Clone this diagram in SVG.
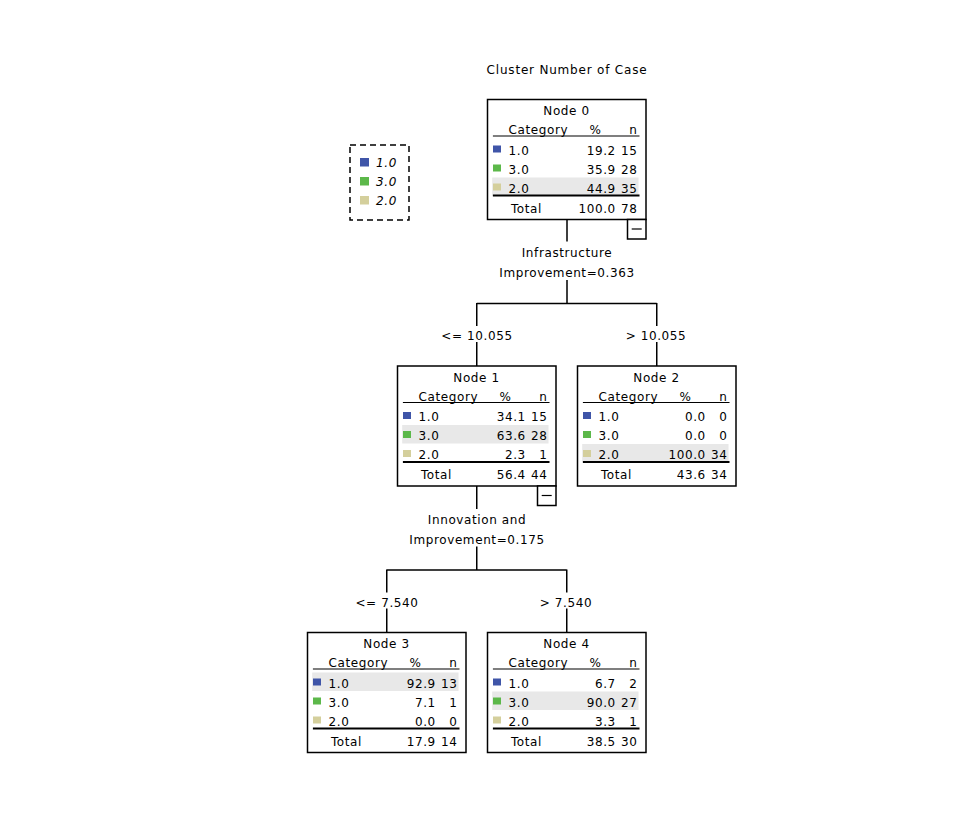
<svg xmlns="http://www.w3.org/2000/svg" width="975" height="825" viewBox="0 0 975 825">
<defs>
<style>
text{font-family:"DejaVu Sans","Liberation Sans",sans-serif;font-size:12px;fill:#000;letter-spacing:0.6px}
.title{letter-spacing:0.8px}
.m{text-anchor:middle}
.e{text-anchor:end}
.box{fill:#fff;stroke:#000;stroke-width:1.5}
.hl{fill:#e8e8e8}
.hd{stroke:#000;stroke-width:1.2}
.sep{stroke:#000;stroke-width:2}
.b{fill:#3f55a8}
.g{fill:#5cb84a}
.y{fill:#d4cf9c}
.con{stroke:#000;stroke-width:1.5;fill:none}
.leg{fill:none;stroke:#000;stroke-width:1.5;stroke-dasharray:6,4}
.it{font-style:italic}
</style>
</defs>
<rect width="975" height="825" fill="#fff"/>
<text class="title m" x="567" y="74">Cluster Number of Case</text>

<g id="legend">
<rect class="leg" x="350" y="145" width="59" height="75"/>
<rect class="b" x="360" y="158" width="9" height="8.5"/>
<rect class="g" x="360" y="177" width="9" height="8.5"/>
<rect class="y" x="360" y="196" width="9" height="8.5"/>
<text class="it" x="376" y="167">1.0</text>
<text class="it" x="376" y="186">3.0</text>
<text class="it" x="376" y="205">2.0</text>
</g>

<g id="connectors">
<path class="con" d="M567,219.5V241.5M567,280V303.5M476.75,303.5H656.75M476.75,303V326M476.75,342V366M656.75,303V326M656.75,342V366"/>
<path class="con" d="M476.75,486V509M476.75,546.5V570M386.75,570H566.75M386.75,569.5V592.5M386.75,608.5V632.5M566.75,569.5V592.5M566.75,608.5V632.5"/>
<text class="m" x="567" y="257">Infrastructure</text>
<text class="m" x="567" y="277">Improvement=0.363</text>
<text class="m" x="477" y="340">&lt;= 10.055</text>
<text class="m" x="656" y="340">&gt; 10.055</text>
<text class="m" x="477" y="523.5">Innovation and</text>
<text class="m" x="477" y="543.5">Improvement=0.175</text>
<text class="m" x="387" y="606.5">&lt;= 7.540</text>
<text class="m" x="566" y="606.5">&gt; 7.540</text>
</g>

<g id="node0" transform="translate(487.5,99.5)">
<rect class="box" x="0" y="0" width="158.5" height="120"/>
<rect class="hl" x="4.7" y="78" width="146.3" height="18.5"/>
<text class="m" x="79" y="15.7">Node 0</text>
<text x="21" y="34.7">Category</text><text class="m" x="108" y="34.7">%</text><text class="e" x="150" y="34.7">n</text>
<line class="hd" x1="5.4" y1="36.5" x2="152" y2="36.5"/>
<rect class="b" x="5.5" y="46" width="8" height="7"/><text x="21" y="55">1.0</text><text class="e" x="128.3" y="55">19.2</text><text class="e" x="150" y="55">15</text>
<rect class="g" x="5.5" y="65" width="8" height="7"/><text x="21" y="74">3.0</text><text class="e" x="128.3" y="74">35.9</text><text class="e" x="150" y="74">28</text>
<rect class="y" x="5.5" y="84" width="8" height="7"/><text x="21" y="93">2.0</text><text class="e" x="128.3" y="93">44.9</text><text class="e" x="150" y="93">35</text>
<line class="sep" x1="5.4" y1="96" x2="152" y2="96"/>
<text x="23.4" y="113">Total</text><text class="e" x="128.3" y="113">100.0</text><text class="e" x="150" y="113">78</text>
<rect class="box" x="140" y="120" width="18.5" height="19.5"/>
<line class="hd" x1="144.2" y1="129.5" x2="154.2" y2="129.5"/>
</g>

<g id="node1" transform="translate(397.5,366)">
<rect class="box" x="0" y="0" width="158.5" height="120"/>
<rect class="hl" x="4.7" y="59" width="146.3" height="18.5"/>
<text class="m" x="79" y="15.7">Node 1</text>
<text x="21" y="34.7">Category</text><text class="m" x="108" y="34.7">%</text><text class="e" x="150" y="34.7">n</text>
<line class="hd" x1="5.4" y1="36.5" x2="152" y2="36.5"/>
<rect class="b" x="5.5" y="46" width="8" height="7"/><text x="21" y="55">1.0</text><text class="e" x="128.3" y="55">34.1</text><text class="e" x="150" y="55">15</text>
<rect class="g" x="5.5" y="65" width="8" height="7"/><text x="21" y="74">3.0</text><text class="e" x="128.3" y="74">63.6</text><text class="e" x="150" y="74">28</text>
<rect class="y" x="5.5" y="84" width="8" height="7"/><text x="21" y="93">2.0</text><text class="e" x="128.3" y="93">2.3</text><text class="e" x="150" y="93">1</text>
<line class="sep" x1="5.4" y1="96" x2="152" y2="96"/>
<text x="23.4" y="113">Total</text><text class="e" x="128.3" y="113">56.4</text><text class="e" x="150" y="113">44</text>
<rect class="box" x="140" y="120" width="18.5" height="19.5"/>
<line class="hd" x1="144.2" y1="129.5" x2="154.2" y2="129.5"/>
</g>

<g id="node2" transform="translate(577.5,366)">
<rect class="box" x="0" y="0" width="158.5" height="120"/>
<rect class="hl" x="4.7" y="78" width="146.3" height="18.5"/>
<text class="m" x="79" y="15.7">Node 2</text>
<text x="21" y="34.7">Category</text><text class="m" x="108" y="34.7">%</text><text class="e" x="150" y="34.7">n</text>
<line class="hd" x1="5.4" y1="36.5" x2="152" y2="36.5"/>
<rect class="b" x="5.5" y="46" width="8" height="7"/><text x="21" y="55">1.0</text><text class="e" x="128.3" y="55">0.0</text><text class="e" x="150" y="55">0</text>
<rect class="g" x="5.5" y="65" width="8" height="7"/><text x="21" y="74">3.0</text><text class="e" x="128.3" y="74">0.0</text><text class="e" x="150" y="74">0</text>
<rect class="y" x="5.5" y="84" width="8" height="7"/><text x="21" y="93">2.0</text><text class="e" x="128.3" y="93">100.0</text><text class="e" x="150" y="93">34</text>
<line class="sep" x1="5.4" y1="96" x2="152" y2="96"/>
<text x="23.4" y="113">Total</text><text class="e" x="128.3" y="113">43.6</text><text class="e" x="150" y="113">34</text>
</g>

<g id="node3" transform="translate(307.5,632.5)">
<rect class="box" x="0" y="0" width="158.5" height="120"/>
<rect class="hl" x="4.7" y="40" width="146.3" height="18.5"/>
<text class="m" x="79" y="15.7">Node 3</text>
<text x="21" y="34.7">Category</text><text class="m" x="108" y="34.7">%</text><text class="e" x="150" y="34.7">n</text>
<line class="hd" x1="5.4" y1="36.5" x2="152" y2="36.5"/>
<rect class="b" x="5.5" y="46" width="8" height="7"/><text x="21" y="55">1.0</text><text class="e" x="128.3" y="55">92.9</text><text class="e" x="150" y="55">13</text>
<rect class="g" x="5.5" y="65" width="8" height="7"/><text x="21" y="74">3.0</text><text class="e" x="128.3" y="74">7.1</text><text class="e" x="150" y="74">1</text>
<rect class="y" x="5.5" y="84" width="8" height="7"/><text x="21" y="93">2.0</text><text class="e" x="128.3" y="93">0.0</text><text class="e" x="150" y="93">0</text>
<line class="sep" x1="5.4" y1="96" x2="152" y2="96"/>
<text x="23.4" y="113">Total</text><text class="e" x="128.3" y="113">17.9</text><text class="e" x="150" y="113">14</text>
</g>

<g id="node4" transform="translate(487.5,632.5)">
<rect class="box" x="0" y="0" width="158.5" height="120"/>
<rect class="hl" x="4.7" y="59" width="146.3" height="18.5"/>
<text class="m" x="79" y="15.7">Node 4</text>
<text x="21" y="34.7">Category</text><text class="m" x="108" y="34.7">%</text><text class="e" x="150" y="34.7">n</text>
<line class="hd" x1="5.4" y1="36.5" x2="152" y2="36.5"/>
<rect class="b" x="5.5" y="46" width="8" height="7"/><text x="21" y="55">1.0</text><text class="e" x="128.3" y="55">6.7</text><text class="e" x="150" y="55">2</text>
<rect class="g" x="5.5" y="65" width="8" height="7"/><text x="21" y="74">3.0</text><text class="e" x="128.3" y="74">90.0</text><text class="e" x="150" y="74">27</text>
<rect class="y" x="5.5" y="84" width="8" height="7"/><text x="21" y="93">2.0</text><text class="e" x="128.3" y="93">3.3</text><text class="e" x="150" y="93">1</text>
<line class="sep" x1="5.4" y1="96" x2="152" y2="96"/>
<text x="23.4" y="113">Total</text><text class="e" x="128.3" y="113">38.5</text><text class="e" x="150" y="113">30</text>
</g>
</svg>
